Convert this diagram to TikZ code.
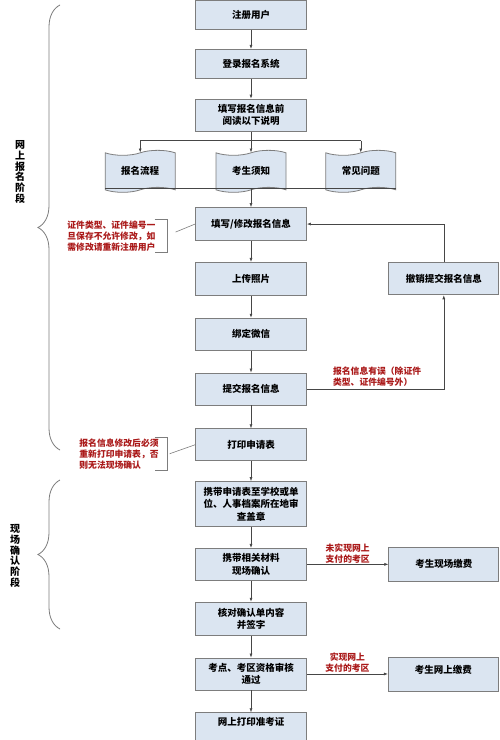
\documentclass[tikz,border=0pt]{standalone}
\usepackage{fontspec}
\setmainfont{Noto Sans CJK SC}
\usetikzlibrary{positioning}
\usetikzlibrary{calc}
\usetikzlibrary{arrows.meta}
\usetikzlibrary{shapes.symbols}
\usetikzlibrary{decorations.pathreplacing}
\definecolor{boxfill}{RGB}{219,229,241}
\definecolor{boxline}{RGB}{125,125,125}
\definecolor{wireline}{RGB}{70,70,70}
\definecolor{notered}{RGB}{170,25,25}

\begin{document}
\begin{tikzpicture}[x=1bp,y=-1bp,
	stage/.style={draw=boxline, line width=0.8bp, fill=boxfill, minimum width=111bp, minimum height=32bp, inner sep=2bp, align=center, font=\fontsize{9.5bp}{12.5bp}\selectfont\bfseries},
	doc/.style={tape, draw=boxline, line width=0.8bp, fill=boxfill, minimum width=70bp, minimum height=42bp, inner sep=2bp, font=\fontsize{9.5bp}{12bp}\selectfont\bfseries},
	flow/.style={draw=wireline, line width=0.6bp, -{Latex[length=4bp,width=3bp]}},
	link/.style={draw=wireline, line width=0.6bp},
	note/.style={text=notered, align=left, inner xsep=0bp, inner ysep=1bp, font=\fontsize{8.8bp}{11bp}\selectfont\bfseries},
	phase/.style={align=center, inner sep=0bp, font=\fontsize{10bp}{10.7bp}\selectfont\bfseries},
	bracket/.style={draw=boxline, line width=0.8bp, decorate, decoration={brace, amplitude=22bp}}]
	\fill [white] (0,0) rectangle (500,740);
	\useasboundingbox (0,0) rectangle (500,740);

	% Online stage
	\node [stage, minimum height=29bp] at (251,15) (1reg) {注册用户};
	\node [stage, minimum height=29bp, below=19bp of 1reg] (2login) {登录报名系统};
	\node [stage, below=20bp of 2login] (3read) {填写报名信息前\\阅读以下说明};
	\coordinate [below=9bp of 3read] (split);
	\node [doc, below=21bp of 3read] (4guide) {考生须知};
	\node [doc, left=40bp of 4guide] (4flow) {报名流程};
	\node [doc, right=39bp of 4guide] (4faq) {常见问题};
	\coordinate [above=2bp of 4guide.south] (merge);
	\node [stage, minimum height=33bp, below=19bp of merge] (5fill) {填写/修改报名信息};
	\node [stage, minimum height=33bp, below=21bp of 5fill] (6upload) {上传照片};
	\node [stage, below=22bp of 6upload] (7wechat) {绑定微信};
	\node [stage, below=22bp of 7wechat] (8submit) {提交报名信息};
	\node [stage, below=23bp of 8submit] (9print) {打印申请表};
	\node [stage, minimum width=110bp, right=81.5bp of 6upload] (6revoke) {撤销提交报名信息};

	% Notes
	\node [note, text width=100bp, left=27.5bp of 5fill, yshift=-12bp] (5note) {证件类型、证件编号一\\旦保存不允许修改，如\\需修改请重新注册用户};
	\coordinate [right=8bp of 5note.east, yshift=4bp] (5tip);
	\node [note, text width=88bp, left=27.5bp of 9print, yshift=-9bp] (9note) {报名信息修改后必须\\重新打印申请表，否\\则无法现场确认};
	\coordinate [right=2bp of 9note.east] (9tip);
	\node [note, above right=1bp and 26bp of 8submit.east] (8err) {报名信息有误（除证件\\类型、证件编号外）};

	% Confirmation stage
	\node [stage, minimum height=45bp, below=20bp of 9print] (10carry) {携带申请表至学校或单\\位、人事档案所在地审\\查盖章};
	\node [stage, below=21bp of 10carry] (11confirm) {携带相关材料\\现场确认};
	\node [stage, minimum height=33bp, below=21bp of 11confirm] (12check) {核对确认单内容\\并签字};
	\node [stage, below=22bp of 12check] (13review) {考点、考区资格审核\\通过};
	\node [stage, inner ysep=5bp, text depth=34bp, below=22bp of 13review] (14admit) {网上打印准考证};
	\node [stage, minimum width=110bp, minimum height=34bp, right=81.5bp of 11confirm] (11pay) {考生现场缴费};
	\node [stage, minimum width=110bp, minimum height=34bp, text depth=9bp, right=81bp of 13review] (13online) {考生网上缴费};

	% Phases
	\node [phase] at (20,172) (p1) {网\\上\\报\\名\\阶\\段};
	\node [phase] at (15,556) (p2) {现\\场\\确\\认\\阶\\段};
	\draw [bracket] (60,450) -- (60,5);
	\draw [bracket] (60,629) -- (60,480);

	% Connections
	\draw [flow] (1reg) -- (2login);
	\draw [flow] (2login) -- (3read);
	\draw [link] (3read) -- (split);
	\draw [link] (split -| 4flow) -- (split -| 4faq);
	\draw [flow] (split -| 4flow) -- (4flow.north);
	\draw [flow] (split) -- (4guide.north);
	\draw [flow] (split -| 4faq) -- (4faq.north);
	\draw [link] (4flow.west |- merge) -- (4faq.east |- merge);
	\draw [flow] (merge) -- (5fill);
	\draw [flow] (5fill) -- (6upload);
	\draw [flow] (6upload) -- (7wechat);
	\draw [flow] (7wechat) -- (8submit);
	\draw [flow] (8submit) -- (9print);
	\draw [flow] (8submit) -| (6revoke);
	\draw [flow] (6revoke) |- (5fill);
	\draw [flow] (9print) -- (10carry);
	\draw [flow] (10carry) -- (11confirm);
	\draw [flow] (11confirm) -- (12check);
	\draw [flow] (12check) -- (13review);
	\draw [flow] (13review) -- (14admit);
	\draw [flow] (11confirm) -- (11pay) node [note, midway, above, align=center, inner ysep=1bp] (11nopay) {未实现网上\\支付的考区};
	\draw [flow] (13review) -- (13online) node [note, midway, above, align=center, inner ysep=1bp] (13haspay) {实现网上\\支付的考区};
	\draw [draw=boxline, line width=0.8bp] ([xshift=-13bp]5note.north east) -- (5note.north east) -- (5note.south east) -- ([xshift=-13bp]5note.south east);
	\draw [draw=boxline, line width=0.8bp] ([xshift=-13bp]9note.north east) -- (9note.north east) -- (9note.south east) -- ([xshift=-13bp]9note.south east);
	\draw [link, draw=boxline] (5tip) -- (5fill.west);
	\draw [link, draw=boxline] (9tip) -- (9print.west);
\end{tikzpicture}
\end{document}
